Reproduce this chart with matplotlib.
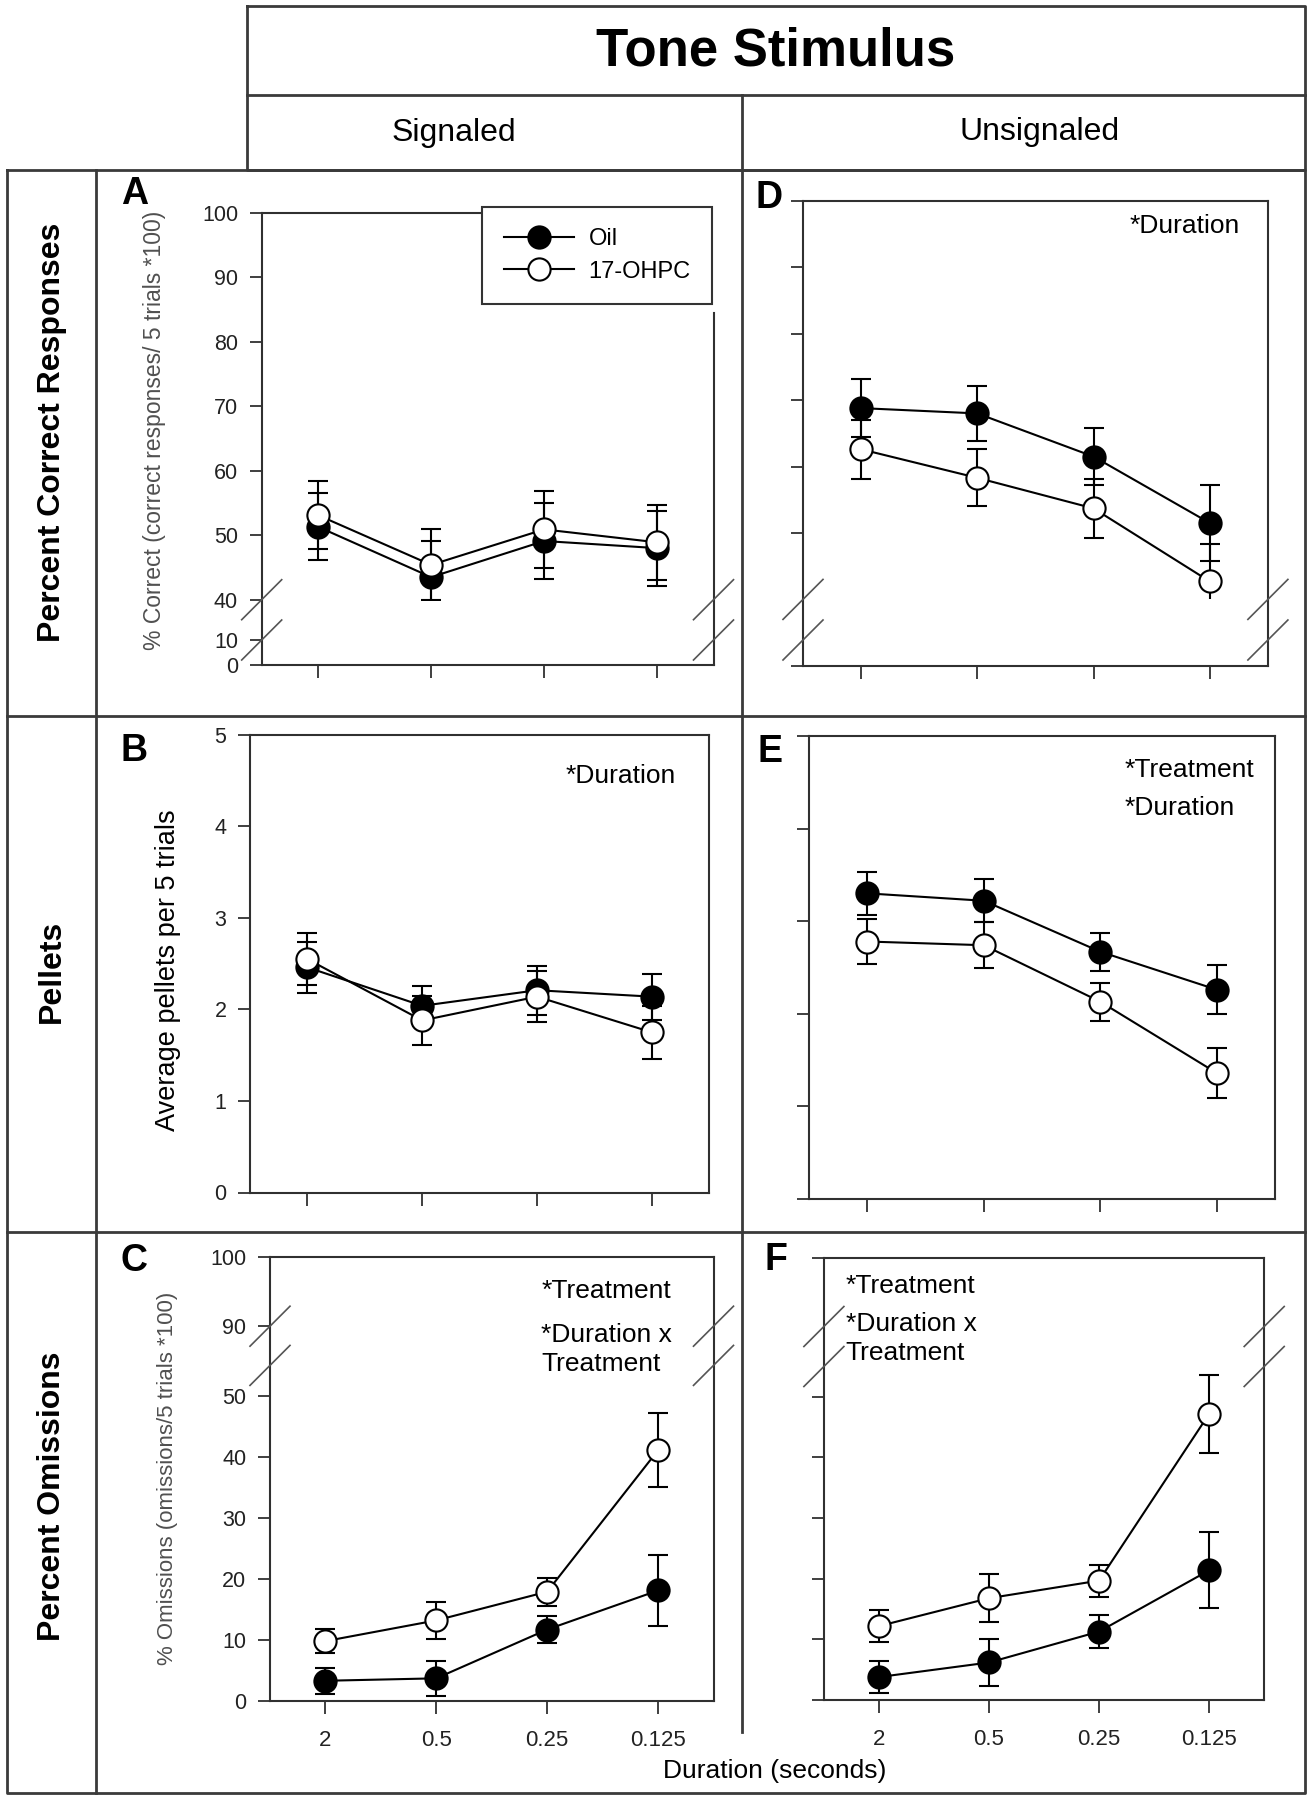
import matplotlib
matplotlib.use('Agg')
import matplotlib.pyplot as plt
import numpy as np
from matplotlib.lines import Line2D
from matplotlib.patches import Rectangle

plt.rcParams['font.family'] = ['Liberation Sans', 'DejaVu Sans']

# ---------------- data ----------------
categories = ['2', '0.5', '0.25', '0.125']
series_names = ['Oil', '17-OHPC']

# A: Percent correct, signaled
A_oil = [51.3, 43.5, 49.1, 48.0]
A_oil_err = [5.2, 5.6, 5.9, 5.8]
A_ohpc = [53.1, 45.4, 50.9, 48.9]
A_ohpc_err = [5.3, 5.5, 6.0, 5.8]

# D: Percent correct, unsignaled
D_oil = [68.8, 68.0, 61.5, 51.5]
D_oil_err = [4.35, 4.2, 4.3, 5.7]
D_ohpc = [62.6, 58.3, 53.7, 42.7]
D_ohpc_err = [4.45, 4.3, 4.5, 5.7]

# B: Pellets, signaled
B_oil = [2.46, 2.04, 2.21, 2.14]
B_oil_err = [0.28, 0.22, 0.27, 0.25]
B_ohpc = [2.55, 1.88, 2.14, 1.75]
B_ohpc_err = [0.285, 0.27, 0.28, 0.29]

# E: Pellets, unsignaled
E_oil = [3.30, 3.22, 2.67, 2.26]
E_oil_err = [0.23, 0.23, 0.205, 0.265]
E_ohpc = [2.78, 2.74, 2.13, 1.36]
E_ohpc_err = [0.24, 0.25, 0.205, 0.27]

# C: Percent omissions, signaled
C_oil = [3.3, 3.7, 11.7, 18.1]
C_oil_err = [2.1, 2.9, 2.25, 5.9]
C_ohpc = [9.8, 13.2, 17.9, 41.1]
C_ohpc_err = [2.0, 3.05, 2.3, 6.05]

# F: Percent omissions, unsignaled
F_oil = [3.8, 6.2, 11.3, 21.4]
F_oil_err = [2.7, 3.9, 2.65, 6.25]
F_ohpc = [12.2, 16.8, 19.7, 47.2]
F_ohpc_err = [2.7, 3.95, 2.65, 6.45]

A_yticks = [0, 10, 40, 50, 60, 70, 80, 90, 100]
D_yticks = [0, 50, 60, 70, 80, 90, 100]
B_yticks = [0, 1, 2, 3, 4, 5]
C_yticks = [0, 10, 20, 30, 40, 50, 90, 100]
F_yticks = [0, 10, 20, 30, 40, 50, 100]

# ---------------- layout ----------------
W, H = 1312, 1800
fig = plt.figure(figsize=(W / 100, H / 100), dpi=100)

def fx(x):
    return x / W

def fy(y):
    return 1 - y / H

def add_axes_px(l, t, r, b):
    return fig.add_axes([fx(l), fy(b), (r - l) / W, (b - t) / H])

FRAME = '#3a3a3a'
SPINE = '#303030'

def fline(xs, ys, lw=2.0, color=FRAME):
    fig.add_artist(Line2D([fx(x) for x in xs], [fy(y) for y in ys],
                          transform=fig.transFigure, color=color, lw=lw,
                          solid_capstyle='projecting'))

# header boxes
fline([247, 1305, 1305, 247, 247], [6, 6, 169.6, 169.6, 6])
fline([247, 1305], [95, 95])
fline([742, 742], [95, 1732])
# outer frame
fline([6.7, 1305, 1305, 6.7, 6.7], [169.6, 169.6, 1793, 1793, 169.6])
fline([96, 96], [169.6, 1793])
fline([6.7, 1305], [716, 716])
fline([6.7, 1305], [1232, 1232])

fig.text(fx(776), fy(51), 'Tone Stimulus', fontsize=38, fontweight='bold',
         ha='center', va='center')
fig.text(fx(454), fy(133), 'Signaled', fontsize=23, ha='center', va='center')
fig.text(fx(1040), fy(132), 'Unsignaled', fontsize=23, ha='center', va='center')

fig.text(fx(52), fy(432), 'Percent Correct Responses', fontsize=23,
         fontweight='bold', rotation=90, ha='center', va='center')
fig.text(fx(52), fy(971), 'Pellets', fontsize=23, fontweight='bold',
         rotation=90, ha='center', va='center')
fig.text(fx(52), fy(1496), 'Percent Omissions', fontsize=23,
         fontweight='bold', rotation=90, ha='center', va='center')


def piecewise(vals, pos):
    vals = np.asarray(vals, float)
    pos = np.asarray(pos, float)

    def fwd(v):
        return np.interp(v, vals, pos)

    def inv(p):
        return np.interp(p, pos, vals)
    return fwd, inv


panels = [
    dict(name='A', box=(261.7, 212.8, 713.5, 664.6), oil=A_oil, oil_err=A_oil_err,
         ohpc=A_ohpc, ohpc_err=A_ohpc_err, ylim=(0, 100),
         brk=([0, 10, 40, 100], [0, 24.6, 64.9, 451.8]), breaks=[40, 10], clip=40,
         yticks=A_yticks, ylabels=True, xlabels=False),
    dict(name='D', box=(803, 200.9, 1267.9, 666.4), oil=D_oil, oil_err=D_oil_err,
         ohpc=D_ohpc, ohpc_err=D_ohpc_err, ylim=(0, 100),
         brk=([0, 10, 40, 100], [0, 26.4, 67.0, 465.5]), breaks=[40, 10], clip=40,
         yticks=D_yticks, ylabels=False, xlabels=False),
    dict(name='B', box=(250, 734.9, 709.3, 1192.5), oil=B_oil, oil_err=B_oil_err,
         ohpc=B_ohpc, ohpc_err=B_ohpc_err, ylim=(0, 5), brk=None, breaks=[], clip=None,
         yticks=B_yticks, ylabels=True, xlabels=False),
    dict(name='E', box=(809.1, 735.9, 1275, 1199), oil=E_oil, oil_err=E_oil_err,
         ohpc=E_ohpc, ohpc_err=E_ohpc_err, ylim=(0, 5), brk=None, breaks=[], clip=None,
         yticks=B_yticks, ylabels=False, xlabels=False),
    dict(name='C', box=(270, 1257, 713.5, 1700.9), oil=C_oil, oil_err=C_oil_err,
         ohpc=C_ohpc, ohpc_err=C_ohpc_err, ylim=(0, 100),
         brk=([0, 55, 90, 100], [0, 335.5, 374.7, 443.9]), breaks=[90, 55], clip=None,
         yticks=C_yticks, ylabels=True, xlabels=True),
    dict(name='F', box=(823.9, 1258.1, 1264.2, 1700.1), oil=F_oil, oil_err=F_oil_err,
         ohpc=F_ohpc, ohpc_err=F_ohpc_err, ylim=(0, 100),
         brk=([0, 55, 90, 100], [0, 333.6, 373.6, 442.0]), breaks=[90, 55], clip=None,
         yticks=F_yticks, ylabels=False, xlabels=True),
]

axes = {}
x = np.arange(len(categories))
for p in panels:
    l, t, r, b = p['box']
    ax = add_axes_px(l, t, r, b)
    axes[p['name']] = ax
    if p['brk'] is not None:
        fwd, inv = piecewise(*p['brk'])
        ax.set_yscale('function', functions=(fwd, inv))
        p['fwd'] = fwd
        p['inv'] = inv
    ax.set_xlim(-0.5, 3.5)
    ax.set_ylim(*p['ylim'])

    conts = []
    for vals, errs, face, z in [(p['oil'], p['oil_err'], 'black', 3),
                                (p['ohpc'], p['ohpc_err'], 'white', 4)]:
        c = ax.errorbar(x, vals, yerr=errs, fmt='-o', color='black', mfc=face,
                        mec='black', ms=16, mew=1.5, lw=1.5, elinewidth=1.5,
                        capsize=7, capthick=1.5, zorder=z)
        conts.append(c)

    if p['clip'] is not None:
        fwd = p['fwd']
        yf = (fwd(p['clip']) - fwd(p['ylim'][0])) / (fwd(p['ylim'][1]) - fwd(p['ylim'][0]))
        for c in conts:
            rect = Rectangle((-0.1, yf), 1.2, 1.2 - yf, transform=ax.transAxes)
            for art in list(c[1]) + list(c[2]):
                art.set_clip_path(rect)

    for s in ax.spines.values():
        s.set_color(SPINE)
        s.set_linewidth(1.5)

    ax.set_xticks(x)
    if p['xlabels']:
        ax.set_xticklabels(categories)
    else:
        ax.set_xticklabels([])
    ax.set_yticks(p['yticks'])
    if p['ylabels']:
        ax.set_yticklabels([str(v) for v in p['yticks']])
    else:
        ax.set_yticklabels([])
    ax.minorticks_off()
    ax.tick_params(axis='both', direction='out', length=9, width=1.3,
                   color=SPINE, labelsize=15.5, labelcolor='#222222')
    ax.tick_params(axis='y', pad=8)
    ax.tick_params(axis='x', pad=12, labelsize=16)

    # axis break marks
    if p['breaks']:
        fwd = p['fwd']
        wpx, hpx = r - l, b - t
        dx, dy = 20 / wpx, 20 / hpx
        lo, hi = fwd(p['ylim'][0]), fwd(p['ylim'][1])
        for bv in p['breaks']:
            yf = (fwd(bv) - lo) / (hi - lo)
            for xs in (0, 1):
                ax.plot([xs - dx, xs + dx], [yf - dy, yf + dy], transform=ax.transAxes,
                        color='#555555', lw=1.2, clip_on=False, zorder=6)

# Panel A: legend covering the top right corner, frame hidden behind it
axA = axes['A']
pA = panels[0]
lA, tA, rA, bA = pA['box']
axA.spines['right'].set_bounds(0, pA['inv'](bA - 313))
axA.spines['top'].set_bounds(-0.5, (480 - lA) / (rA - lA) * 4 - 0.5)
handles = [Line2D([], [], color='black', marker='o', ms=16, mfc='black', mec='black',
                  mew=1.5, lw=1.5),
           Line2D([], [], color='black', marker='o', ms=16, mfc='white', mec='black',
                  mew=1.5, lw=1.5)]
leg = axA.legend(handles, series_names, loc='upper right',
                 bbox_to_anchor=(fx(712), fy(206.8)), bbox_transform=fig.transFigure,
                 borderaxespad=0, fontsize=17, handlelength=3.0, handletextpad=0.6,
                 borderpad=0.9, labelspacing=0.45, fancybox=False, framealpha=1,
                 edgecolor='#333333')
leg.get_frame().set_linewidth(1.5)
leg.set_zorder(10)

# panel letters
for letter, (px, py) in {'A': (120.7, 194.5), 'B': (120.7, 751.4), 'C': (120.7, 1260.7),
                         'D': (756, 198), 'E': (757, 752), 'F': (764.8, 1259.8)}.items():
    fig.text(fx(px), fy(py), letter, fontsize=27, fontweight='bold',
             ha='left', va='center')

# y-axis labels
fig.text(fx(155), fy(430), '% Correct (correct responses/ 5 trials *100)',
         fontsize=16.5, color='#505050', rotation=90, ha='center', va='center')
fig.text(fx(168), fy(970), 'Average pellets per 5 trials', fontsize=19.5,
         rotation=90, ha='center', va='center')
fig.text(fx(168), fy(1478), '% Omissions (omissions/5 trials *100)',
         fontsize=16, color='#505050', rotation=90, ha='center', va='center')

fig.text(fx(775), fy(1771), 'Duration (seconds)', fontsize=19,
         ha='center', va='center')

# statistics annotations
ann = [
    (1130, 226, '*Duration'),
    (566, 776, '*Duration'),
    (1124.5, 769.7, '*Treatment'),
    (1124.5, 807.8, '*Duration'),
    (541.4, 1291.4, '*Treatment'),
    (541.4, 1334.7, '*Duration x'),
    (541.4, 1364.3, 'Treatment'),
    (845.8, 1285.8, '*Treatment'),
    (845.8, 1323.6, '*Duration x'),
    (845.8, 1353.2, 'Treatment'),
]
for px, py, s in ann:
    fig.text(fx(px), fy(py), s, fontsize=19, ha='left', va='center')

fig.savefig('out.png', dpi=100)
